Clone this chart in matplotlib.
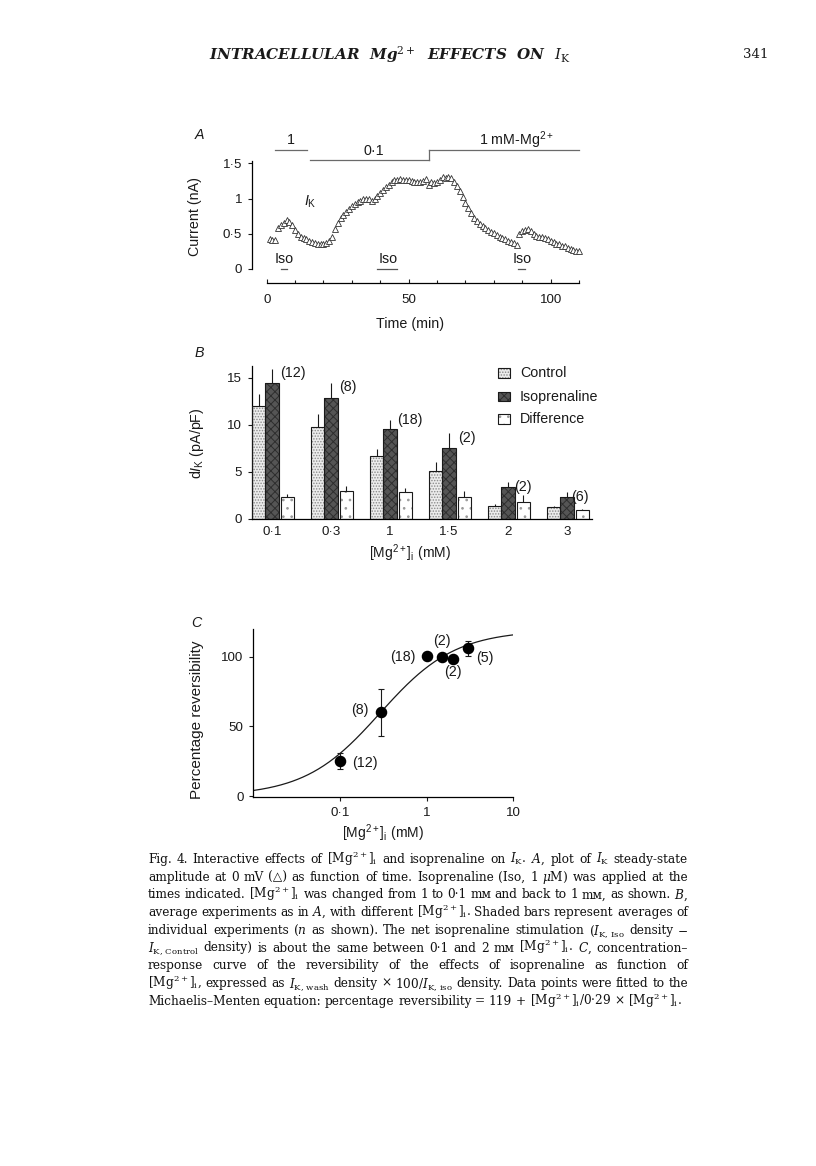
import matplotlib
matplotlib.use("Agg")
import matplotlib.pyplot as plt
import numpy as np
from matplotlib.patches import Rectangle

# ---------------- data ----------------
# Panel A: I_K vs time
time_min = [1, 2, 3, 4, 5, 6, 7, 8, 9, 10, 11, 12, 13, 14, 15, 16, 17, 18, 19, 20,
            21, 22, 23, 24, 25, 26, 27, 28, 29, 30, 31, 32, 33, 34, 35, 36, 37, 38, 39, 40,
            41, 42, 43, 44, 45, 46, 47, 48, 49, 50, 51, 52, 53, 54, 55, 56, 57, 58, 59, 60,
            61, 62, 63, 64, 65, 66, 67, 68, 69, 70, 71, 72, 73, 74, 75, 76, 77, 78, 79, 80,
            81, 82, 83, 84, 85, 86, 87, 88, 89, 90, 91, 92, 93, 94, 95, 96, 97, 98, 99, 100,
            101, 102, 103, 104, 105, 106, 107, 108, 109, 110]
current_nA = [0.43, 0.41, 0.41, 0.58, 0.63, 0.66, 0.69, 0.67, 0.62, 0.56,
              0.50, 0.46, 0.44, 0.42, 0.40, 0.39, 0.37, 0.36, 0.355, 0.36,
              0.37, 0.40, 0.46, 0.57, 0.66, 0.73, 0.77, 0.81, 0.85, 0.89,
              0.93, 0.95, 0.97, 0.99, 0.99, 0.99, 0.96, 1.00, 1.04, 1.08,
              1.12, 1.16, 1.20, 1.24, 1.26, 1.27, 1.28, 1.27, 1.27, 1.26,
              1.25, 1.24, 1.24, 1.24, 1.25, 1.28, 1.20, 1.23, 1.22, 1.23,
              1.27, 1.31, 1.29, 1.31, 1.29, 1.24, 1.18, 1.11, 1.02, 0.94,
              0.87, 0.80, 0.73, 0.68, 0.64, 0.61, 0.58, 0.55, 0.53, 0.51,
              0.48, 0.46, 0.44, 0.42, 0.40, 0.38, 0.37, 0.34, 0.49, 0.54,
              0.56, 0.57, 0.54, 0.50, 0.47, 0.46, 0.45, 0.44, 0.42, 0.40,
              0.38, 0.36, 0.35, 0.33, 0.32, 0.30, 0.28, 0.27, 0.26, 0.25]
mg_start = [2.9, 15.3, 57.3]
mg_end = [14.1, 57.3, 110]
mg_labels = ["1", "0·1", "1 mM-Mg$^{2+}$"]
iso_start = [5, 39, 88.4]
iso_end = [7, 45.8, 91]

# Panel B
mg_groups = ["0·1", "0·3", "1", "1·5", "2", "3"]
control = [12.0, 9.8, 6.7, 5.1, 1.4, 1.24]
control_err = [1.3, 1.3, 0.7, 0.9, 0.15, 0.17]
isoprenaline = [14.4, 12.9, 9.6, 7.5, 3.36, 2.37]
isoprenaline_err = [1.5, 1.5, 0.95, 1.6, 0.6, 0.46]
difference = [2.37, 2.97, 2.9, 2.37, 1.84, 0.96]
difference_err = [0.28, 0.57, 0.35, 0.63, 0.7, 0.1]
n_labels = ["(12)", "(8)", "(18)", "(2)", "(2)", "(6)"]

# Panel C
mg_conc = [0.1, 0.3, 1.0, 1.5, 2.0, 3.0]
reversibility = [25.4, 60.0, 100.5, 100.0, 98.3, 106.0]
reversibility_err = [5.7, 16.7, 0.0, 0.0, 0.0, 5.2]
c_labels = ["(12)", "(8)", "(18)", "(2)", "(2)", "(5)"]
fit_vmax = 119.0
fit_km = 0.29

# ---------------- setup ----------------
W, H = 816, 1166
plt.rcParams["font.family"] = ["Liberation Sans", "DejaVu Sans"]
plt.rcParams["mathtext.fontset"] = "custom"
plt.rcParams["mathtext.rm"] = "Liberation Sans"
plt.rcParams["mathtext.it"] = "Liberation Sans:italic"
plt.rcParams["mathtext.bf"] = "Liberation Sans:bold"
plt.rcParams["mathtext.sf"] = "Liberation Sans"
plt.rcParams["hatch.linewidth"] = 0.7
plt.rcParams["axes.linewidth"] = 0.9

fig = plt.figure(figsize=(W / 100, H / 100), dpi=100)
fig.patch.set_facecolor("white")
FS = 10.3     # labels
TFS = 9.6     # tick labels
INK = "#1a1a1a"


def fx(px):
    return px / W


def fy(py):
    return 1 - py / H


def axes_px(l, t, r, b):
    return fig.add_axes([fx(l), fy(b), (r - l) / W, (b - t) / H])


def ftext(x, y, s, **kw):
    kw.setdefault("ha", "center")
    kw.setdefault("va", "center")
    kw.setdefault("fontsize", FS)
    kw.setdefault("color", INK)
    return fig.text(fx(x), fy(y), s, **kw)


# ---------------- Panel A ----------------
axA = axes_px(251.7, 159.9, 581.9, 282.7)
axA.set_xlim(-5.28, 111)
axA.set_ylim(-0.195, 1.55)
axA.plot(time_min, current_nA, linestyle="none", marker="^", markersize=3.8,
         markerfacecolor="white", markeredgecolor="#333333", markeredgewidth=0.6)
for spn in ("top", "right"):
    axA.spines[spn].set_visible(False)
axA.spines["left"].set_bounds(0, 1.53)
axA.spines["bottom"].set_bounds(0, 110)
axA.set_yticks([0, 0.5, 1, 1.5])
axA.set_yticklabels(["0", "0·5", "1", "1·5"])
axA.set_xticks([0, 50, 100])
axA.set_xticks([10, 20, 30, 40, 60, 70, 80, 90, 110], minor=True)
axA.tick_params(axis="y", direction="out", length=3, width=0.8, pad=4, labelsize=TFS, colors=INK)
axA.tick_params(axis="x", which="both", direction="in", length=3, width=0.8, pad=8, labelsize=TFS, colors=INK)
axA.tick_params(axis="x", which="minor", length=2.5)

# Mg2+ solution bars
mg_levels = [1.69, 1.55, 1.69]
for s, e, lev in zip(mg_start, mg_end, mg_levels):
    axA.plot([s, e], [lev, lev], color="#6a6a6a", lw=0.9, clip_on=False)
axA.plot([mg_start[2], mg_start[2]], [mg_levels[1], mg_levels[2]], color="#6a6a6a", lw=0.9, clip_on=False)
axA.text((mg_start[0] + mg_end[0]) / 2, 1.83, mg_labels[0], ha="center", va="center", fontsize=FS, color=INK, clip_on=False)
axA.text(37.6, 1.67, mg_labels[1], ha="center", va="center", fontsize=FS, color=INK, clip_on=False)
axA.text(88, 1.83, mg_labels[2], ha="center", va="center", fontsize=FS, color=INK, clip_on=False)
# Iso applications
for s, e in zip(iso_start, iso_end):
    axA.plot([s, e], [0.0, 0.0], color="#555555", lw=0.9)
    axA.text((s + e) / 2 + 0.3, 0.14, "Iso", ha="center", va="center", fontsize=FS, color=INK)
axA.text(15.3, 0.96, r"$I_{\mathrm{K}}$", ha="center", va="center", fontsize=FS, color=INK)

ftext(195, 217, "Current (nA)", rotation=90)
ftext(410, 324, "Time (min)")
ftext(199, 135, "A", style="italic")

# ---------------- Panel B ----------------
axB = axes_px(251.7, 365.5, 591.8, 519)
axB.set_xlim(-0.344, 5.42)
axB.set_ylim(0, 16.3)
xg = np.arange(len(mg_groups))
bw = 0.228
styles = [
    dict(face="#ececec", hatch="......", hcol="#8a8a8a"),
    dict(face="#555555", hatch="xxxx", hcol="#2e2e2e"),
    dict(face="white", hatch="..", hcol="#9a9a9a"),
]
offsets = [-bw, 0.0, 0.26]
series = [control, isoprenaline, difference]
errs = [control_err, isoprenaline_err, difference_err]
for vals, er, off, st in zip(series, errs, offsets, styles):
    axB.bar(xg + off, vals, width=bw, color=st["face"], hatch=st["hatch"],
            edgecolor=st["hcol"], linewidth=0, zorder=2)
    axB.bar(xg + off, vals, width=bw, fill=False, edgecolor=INK, linewidth=0.8, zorder=3)
    axB.errorbar(xg + off, vals, yerr=[np.zeros(len(vals)), er], fmt="none",
                 ecolor=INK, elinewidth=0.8, capsize=0, zorder=1)
for spn in ("top", "right"):
    axB.spines[spn].set_visible(False)
axB.spines["left"].set_bounds(0, 16.2)
axB.set_yticks([0, 5, 10, 15])
axB.set_xticks(xg)
axB.set_xticklabels(mg_groups)
axB.tick_params(axis="y", direction="out", length=3, width=0.8, pad=4, labelsize=TFS, colors=INK)
axB.tick_params(axis="x", length=0, pad=5, labelsize=TFS, colors=INK)

n_pos = [(293, 373), (348, 386.7), (410, 420), (466.7, 438), (523, 486.7), (580, 496.7)]
for (px, py), lab in zip(n_pos, n_labels):
    ftext(px, py, lab)

# legend (manual)
leg_names = ["Control", "Isoprenaline", "Difference"]
leg_rows = [373, 396.7, 419]
for name, row, st in zip(leg_names, leg_rows, styles):
    r1 = Rectangle((fx(498.3), fy(row + 4.6)), 11.7 / W, 9.2 / H, transform=fig.transFigure,
                   facecolor=st["face"], hatch=st["hatch"], edgecolor=st["hcol"], linewidth=0)
    r2 = Rectangle((fx(498.3), fy(row + 4.6)), 11.7 / W, 9.2 / H, transform=fig.transFigure,
                   fill=False, edgecolor=INK, linewidth=0.8)
    fig.patches.extend([r1, r2])
    ftext(520, row, name, ha="left")

ftext(197, 443, r"d$I_{\mathrm{K}}$ (pA/pF)", rotation=90)
ftext(410, 553, r"[Mg$^{2+}$]$_{\mathrm{i}}$ (mM)", fontsize=10)
ftext(199, 353, "B", style="italic")

# ---------------- Panel C ----------------
axC = axes_px(253.3, 628.8, 513.3, 797.4)
axC.set_xscale("log")
axC.set_xlim(0.01, 10)
axC.set_ylim(-1, 120)
xf = np.logspace(-2, 1, 300)
axC.plot(xf, fit_vmax * xf / (fit_km + xf), color=INK, lw=0.9, zorder=2)
axC.errorbar(mg_conc, reversibility, yerr=reversibility_err, fmt="o", color="black",
             markersize=7.3, ecolor=INK, elinewidth=0.8, capsize=2.4, capthick=0.8, zorder=3)
for spn in ("top", "right"):
    axC.spines[spn].set_visible(False)
axC.set_yticks([0, 50, 100])
axC.set_xticks([0.1, 1, 10])
axC.set_xticklabels(["0·1", "1", "10"])
axC.xaxis.set_minor_locator(matplotlib.ticker.NullLocator())
axC.tick_params(axis="both", direction="out", length=3, width=0.8, pad=4, labelsize=TFS, colors=INK)

c_pos = [(365, 763), (360, 710), (403, 656.7), (442.3, 641), (453.3, 671.7), (485, 658.3)]
for (px, py), lab in zip(c_pos, c_labels):
    ftext(px, py, lab)

ftext(197, 720, "Percentage reversibility", rotation=90, fontsize=11)
ftext(383, 833, r"[Mg$^{2+}$]$_{\mathrm{i}}$ (mM)", fontsize=10)
ftext(196, 623, "C", style="italic")

# ---------------- header ----------------
ftext(390, 55, r"INTRACELLULAR  Mg$^{2+}$  EFFECTS  ON  $I_{\mathrm{K}}$",
      family=["DejaVu Serif", "DejaVu Sans"], style="italic", weight="bold",
      fontsize=10.9, math_fontfamily="dejavuserif")
ftext(756, 55, "341", family=["DejaVu Serif"], fontsize=9.6)

# ---------------- caption ----------------
caption_lines = [
    r"Fig. 4. Interactive effects of [Mg$^{2+}$]$_\mathrm{i}$ and isoprenaline on $I_\mathrm{K}$. $A$, plot of $I_\mathrm{K}$ steady-state",
    r"amplitude at 0 mV (△) as function of time. Isoprenaline (Iso, 1 $\mu$M) was applied at the",
    r"times indicated. [Mg$^{2+}$]$_\mathrm{i}$ was changed from 1 to 0·1 mᴍ and back to 1 mᴍ, as shown. $B$,",
    r"average experiments as in $A$, with different [Mg$^{2+}$]$_\mathrm{i}$. Shaded bars represent averages of",
    r"individual experiments ($n$ as shown). The net isoprenaline stimulation ($I_\mathrm{K,\,Iso}$ density −",
    r"$I_\mathrm{K,\,Control}$ density) is about the same between 0·1 and 2 mᴍ [Mg$^{2+}$]$_\mathrm{i}$. $C$, concentration–",
    r"response curve of the reversibility of the effects of isoprenaline as function of",
    r"[Mg$^{2+}$]$_\mathrm{i}$, expressed as $I_\mathrm{K,\,wash}$ density × 100/$I_\mathrm{K,\,iso}$ density. Data points were fitted to the",
    r"Michaelis–Menten equation: percentage reversibility = 119 + [Mg$^{2+}$]$_\mathrm{i}$/0·29 × [Mg$^{2+}$]$_\mathrm{i}$.",
]
cap_x0, cap_x1 = 148, 688
cap_y0, cap_dy = 859, 17.7
renderer = fig.canvas.get_renderer()
line_objs = []
for line in caption_lines:
    words = line.split(" ")
    objs = [fig.text(0, 0, w, fontsize=9.0, family=["DejaVu Serif", "DejaVu Sans"],
                     math_fontfamily="dejavuserif", ha="left", va="baseline", color="#111111")
            for w in words]
    line_objs.append(objs)

# choose largest size where every justified line keeps a minimum word gap
cap_fs = 9.6
while cap_fs > 7.0:
    ok = True
    for objs in line_objs[:-1]:
        for o in objs:
            o.set_fontsize(cap_fs)
        tot = sum(o.get_window_extent(renderer).width for o in objs)
        gap = (cap_x1 - cap_x0 - tot) / (len(objs) - 1)
        if gap < 0.24 * cap_fs * 100 / 72:
            ok = False
            break
    if ok:
        break
    cap_fs -= 0.1

for i, objs in enumerate(line_objs):
    for o in objs:
        o.set_fontsize(cap_fs)
    widths = [o.get_window_extent(renderer).width for o in objs]
    if i == len(line_objs) - 1:
        gap = cap_fs * 100 / 72 * 0.3
    else:
        gap = (cap_x1 - cap_x0 - sum(widths)) / (len(objs) - 1)
    x = cap_x0
    base = cap_y0 + i * cap_dy + 4
    for o, w in zip(objs, widths):
        o.set_position((fx(x), fy(base)))
        x += w + gap

fig.savefig("out.png", dpi=100, facecolor="white")
